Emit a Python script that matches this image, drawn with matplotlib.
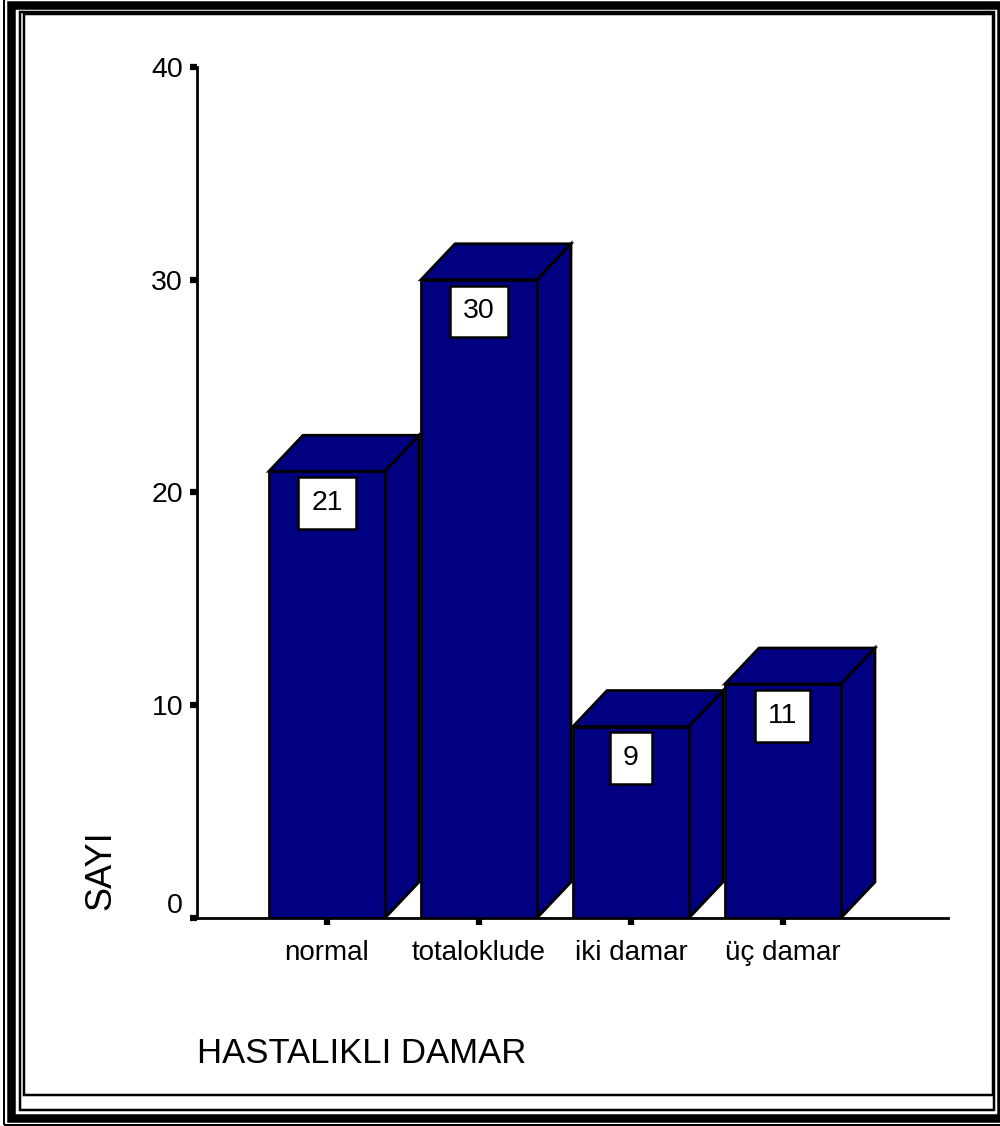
import matplotlib
matplotlib.use("Agg")
import matplotlib.pyplot as plt
from matplotlib.patches import Polygon, Rectangle
from matplotlib import font_manager
import matplotlib.transforms as mtransforms

# Data
categories = ["normal", "totaloklude", "iki damar", "üç damar"]
counts = [21, 30, 9, 11]
y_ticks = [0, 10, 20, 30, 40]
x_title = "HASTALIKLI DAMAR"
y_title = "SAYI"


def pick(fams):
    for f in fams:
        try:
            font_manager.findfont(font_manager.FontProperties(family=f),
                                  fallback_to_default=False)
            return f
        except Exception:
            pass
    return "DejaVu Sans"


FONT = pick(["Liberation Sans", "Arial"])

W, H = 1000, 1126
fig = plt.figure(figsize=(W / 100, H / 100), dpi=100)
fig.patch.set_facecolor("white")


def fx(x):
    return x / W


def fy(y):
    return 1 - y / H


def frame(x0, y0, x1, y1, lw_px, color="black"):
    fig.add_artist(Rectangle((fx(x0), fy(y1)), fx(x1) - fx(x0), fy(y0) - fy(y1),
                             transform=fig.transFigure, fill=False,
                             lw=lw_px * 0.72, ec=color, joinstyle="miter"))


# Page border
frame(4, -5, 1010, 1125, 2)
frame(11, 4.5, 1001, 1117.5, 8.5)
frame(20, 11.5, 993.5, 1109.5, 2.5)
frame(24, 14, 992.5, 1095, 2.5)

# Axes
ax = fig.add_axes([fx(197), fy(918), (948 - 197) / W, (918 - 67) / H])
ax.set_xlim(-0.855, 4.086)
ax.set_ylim(0, 40)
ax.set_facecolor("none")
for s in ("top", "right"):
    ax.spines[s].set_visible(False)
for s in ("left", "bottom"):
    ax.spines[s].set_linewidth(2.0)
    ax.spines[s].set_capstyle("projecting")

bar_w = 0.763
dx = 0.224
dy = 1.69
navy = "#000080"
edge_lw = 2.0

for i, v in enumerate(counts):
    x0 = i - bar_w / 2
    x1 = i + bar_w / 2
    front = Polygon([(x0, 0), (x1, 0), (x1, v), (x0, v)], closed=True,
                    fc=navy, ec="black", lw=edge_lw, joinstyle="miter", zorder=2 + i)
    top = Polygon([(x0, v), (x0 + dx, v + dy), (x1 + dx, v + dy), (x1, v)], closed=True,
                  fc=navy, ec="black", lw=edge_lw, joinstyle="miter", zorder=2 + i)
    side = Polygon([(x1, 0), (x1 + dx, dy), (x1 + dx, v + dy), (x1, v)], closed=True,
                   fc=navy, ec="black", lw=edge_lw, joinstyle="miter", zorder=2 + i)
    for p in (side, top, front):
        ax.add_patch(p)
    ax.annotate(str(v), xy=(i, v), xytext=(0, -13.5), textcoords="offset points",
                ha="center", va="top", fontsize=20.5, family=FONT,
                zorder=10 + i,
                bbox=dict(boxstyle="square,pad=0.45", fc="white", ec="black", lw=1.8))

# Ticks
ax.set_yticks(y_ticks)
ax.set_yticklabels([str(t) for t in y_ticks], family=FONT, fontsize=20.5)
ax.set_xticks(range(len(categories)))
ax.set_xticklabels(categories, family=FONT, fontsize=20)
ax.tick_params(axis="y", direction="out", length=5, width=4.5, pad=5)
ax.tick_params(axis="x", direction="out", length=5, width=4.5, pad=11)

# Lift the zero label clear of the baseline
zero = ax.get_yticklabels()[0]
zero.set_transform(zero.get_transform() +
                   mtransforms.ScaledTranslation(0, 0.15, fig.dpi_scale_trans))

# Titles
fig.text(fx(101), fy(870), y_title, rotation=90, ha="center", va="center",
         family=FONT, fontsize=26)
fig.text(fx(197), fy(1063), x_title, ha="left", va="baseline",
         family=FONT, fontsize=25)

fig.savefig("out.png", dpi=100, facecolor="white")
